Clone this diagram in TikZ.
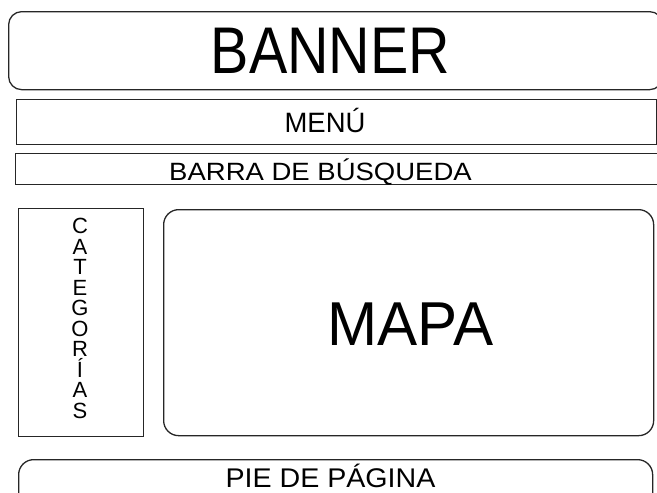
\documentclass[tikz,border=0pt]{standalone}
\usepackage{fontspec}
\usepackage{graphicx}
\setmainfont{Liberation Sans}
\lineskiplimit=-100pt
\tikzset{
  frame/.style={draw=black!85, line width=1.3pt, inner sep=0pt, anchor=north west},
  roundframe/.style={frame, rounded corners=#1},
  lbl/.style={inner sep=0pt, anchor=base, text=black},
}
\begin{document}
\begin{tikzpicture}[x=1pt,y=-1pt]
\useasboundingbox (0,0) rectangle (657,493);
\clip (0,0) rectangle (657,493);
% boxes
\node[roundframe=13pt, minimum width=654pt, minimum height=78pt] (banner) at (8,11) {};
\node[frame, minimum width=640pt, minimum height=45pt] (menu) at (16,99) {};
\node[frame, minimum width=645pt, minimum height=31pt] (barra) at (15,153) {};
\node[frame, minimum width=125pt, minimum height=228pt] (cat) at (18,208) {};
\node[roundframe=15pt, minimum width=490pt, minimum height=226pt] (mapa) at (163,209) {};
\node[roundframe=15pt, minimum width=634pt, minimum height=60pt] (pie) at (18,459) {};
% labels
\node[lbl, font=\fontsize{66}{66}\selectfont] (tbanner) at (330.5,73) {\scalebox{0.87}[1]{BANNER}};
\node[lbl, font=\fontsize{28}{28}\selectfont] (tmenu) at (325,132) {\scalebox{0.98}[1]{MENÚ}};
\node[lbl, font=\fontsize{25}{25}\selectfont] (tbarra) at (320.5,180) {\scalebox{1.1}[1]{BARRA DE BÚSQUEDA}};
\node[lbl, font=\fontsize{62}{62}\selectfont] (tmapa) at (410.5,345) {\scalebox{0.97}[1]{MAPA}};
\node[lbl, font=\fontsize{27}{27}\selectfont] (tpie) at (330.5,487) {\scalebox{1.06}[1]{PIE DE PÁGINA}};
\node[inner sep=0pt, anchor=north, align=center, font=\fontsize{22}{20.5}\selectfont] (tcat) at (80,218)
  {C\\A\\T\\E\\G\\O\\R\\Í\\A\\S};
\end{tikzpicture}
\end{document}
